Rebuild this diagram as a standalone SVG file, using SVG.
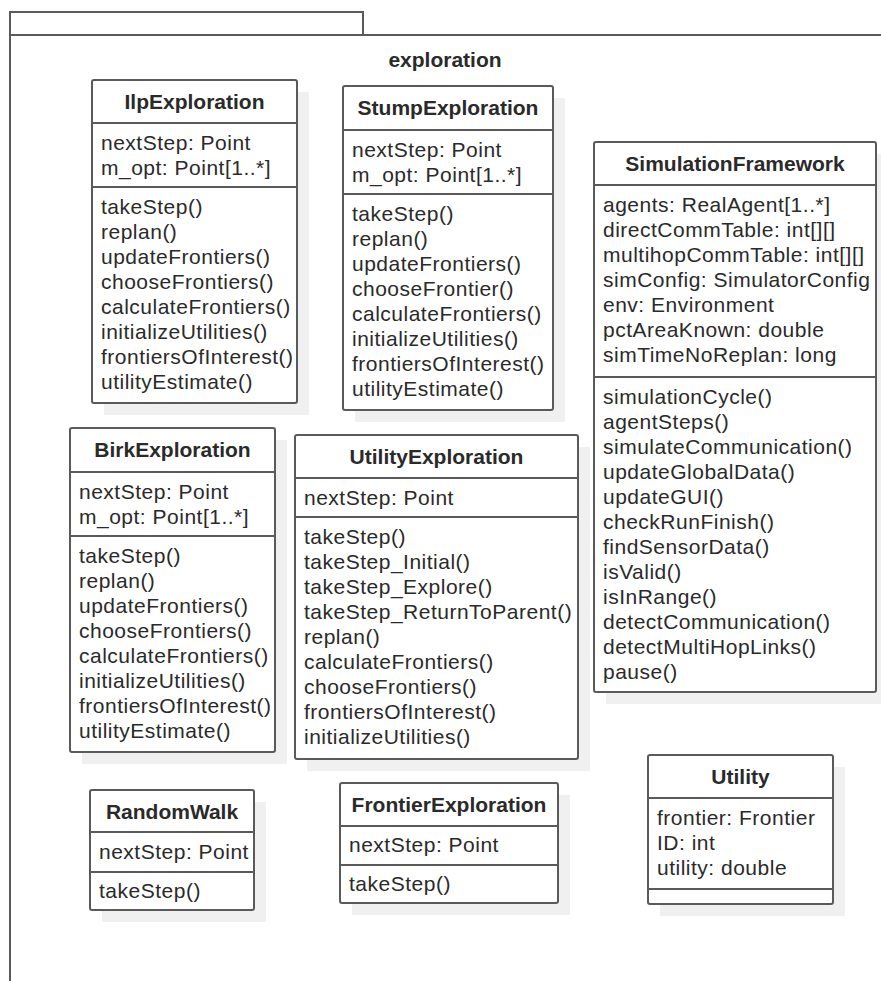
<svg xmlns="http://www.w3.org/2000/svg" width="881" height="981" viewBox="0 0 881 981">
<style>
.bg{fill:#ffffff}
.frame{fill:none;stroke:#5a5a5a;stroke-width:2}
.box{fill:#ffffff;stroke:#5a5a5a;stroke-width:2}
.sh{fill:#f0f0f0}
.sep{stroke:#5a5a5a;stroke-width:2}
.t{font-family:"Liberation Sans",Arial,sans-serif;font-size:21px;letter-spacing:0.5px;fill:#2a2a2a}
.b{font-family:"Liberation Sans",Arial,sans-serif;font-size:21px;font-weight:bold;fill:#2a2a2a;text-anchor:middle}
</style>
<rect class="bg" x="0" y="0" width="881" height="981"/>
<g id="package-exploration">
<path class="frame" d="M10,35 V12 H363 V35"/>
<path class="frame" d="M10,981 V35 H881"/>
<text class="b" x="445" y="67">exploration</text>
</g>
<g id="IlpExploration">
<rect class="sh" x="104" y="92" width="205" height="323"/>
<rect class="box" x="92" y="80" width="205" height="323" rx="2"/>
<line class="sep" x1="92" y1="123" x2="297" y2="123"/>
<line class="sep" x1="92" y1="187" x2="297" y2="187"/>
<text class="b" x="194.5" y="109">IlpExploration</text>
<text class="t" x="101" y="150">nextStep: Point</text>
<text class="t" x="101" y="175">m_opt: Point[1..*]</text>
<text class="t" x="101" y="214">takeStep()</text>
<text class="t" x="101" y="239">replan()</text>
<text class="t" x="101" y="264">updateFrontiers()</text>
<text class="t" x="101" y="289">chooseFrontiers()</text>
<text class="t" x="101" y="314">calculateFrontiers()</text>
<text class="t" x="101" y="339">initializeUtilities()</text>
<text class="t" x="101" y="364">frontiersOfInterest()</text>
<text class="t" x="101" y="389">utilityEstimate()</text>
</g>
<g id="StumpExploration">
<rect class="sh" x="355" y="98" width="210" height="324"/>
<rect class="box" x="343" y="86" width="210" height="324" rx="2"/>
<line class="sep" x1="343" y1="130" x2="553" y2="130"/>
<line class="sep" x1="343" y1="194" x2="553" y2="194"/>
<text class="b" x="448" y="115">StumpExploration</text>
<text class="t" x="352" y="157">nextStep: Point</text>
<text class="t" x="352" y="182">m_opt: Point[1..*]</text>
<text class="t" x="352" y="221">takeStep()</text>
<text class="t" x="352" y="246">replan()</text>
<text class="t" x="352" y="271">updateFrontiers()</text>
<text class="t" x="352" y="296">chooseFrontier()</text>
<text class="t" x="352" y="321">calculateFrontiers()</text>
<text class="t" x="352" y="346">initializeUtilities()</text>
<text class="t" x="352" y="371">frontiersOfInterest()</text>
<text class="t" x="352" y="396">utilityEstimate()</text>
</g>
<g id="SimulationFramework">
<rect class="sh" x="606" y="154" width="282" height="550"/>
<rect class="box" x="594" y="142" width="282" height="550" rx="2"/>
<line class="sep" x1="594" y1="185" x2="876" y2="185"/>
<line class="sep" x1="594" y1="377" x2="876" y2="377"/>
<text class="b" x="735" y="171">SimulationFramework</text>
<text class="t" x="603" y="212">agents: RealAgent[1..*]</text>
<text class="t" x="603" y="237">directCommTable: int[][]</text>
<text class="t" x="603" y="262">multihopCommTable: int[][]</text>
<text class="t" x="603" y="287">simConfig: SimulatorConfig</text>
<text class="t" x="603" y="312">env: Environment</text>
<text class="t" x="603" y="337">pctAreaKnown: double</text>
<text class="t" x="603" y="362">simTimeNoReplan: long</text>
<text class="t" x="603" y="404">simulationCycle()</text>
<text class="t" x="603" y="429">agentSteps()</text>
<text class="t" x="603" y="454">simulateCommunication()</text>
<text class="t" x="603" y="479">updateGlobalData()</text>
<text class="t" x="603" y="504">updateGUI()</text>
<text class="t" x="603" y="529">checkRunFinish()</text>
<text class="t" x="603" y="554">findSensorData()</text>
<text class="t" x="603" y="579">isValid()</text>
<text class="t" x="603" y="604">isInRange()</text>
<text class="t" x="603" y="629">detectCommunication()</text>
<text class="t" x="603" y="654">detectMultiHopLinks()</text>
<text class="t" x="603" y="679">pause()</text>
</g>
<g id="BirkExploration">
<rect class="sh" x="82" y="440" width="205" height="324"/>
<rect class="box" x="70" y="428" width="205" height="324" rx="2"/>
<line class="sep" x1="70" y1="472" x2="275" y2="472"/>
<line class="sep" x1="70" y1="536" x2="275" y2="536"/>
<text class="b" x="172.5" y="457">BirkExploration</text>
<text class="t" x="79" y="499">nextStep: Point</text>
<text class="t" x="79" y="524">m_opt: Point[1..*]</text>
<text class="t" x="79" y="563">takeStep()</text>
<text class="t" x="79" y="588">replan()</text>
<text class="t" x="79" y="613">updateFrontiers()</text>
<text class="t" x="79" y="638">chooseFrontiers()</text>
<text class="t" x="79" y="663">calculateFrontiers()</text>
<text class="t" x="79" y="688">initializeUtilities()</text>
<text class="t" x="79" y="713">frontiersOfInterest()</text>
<text class="t" x="79" y="738">utilityEstimate()</text>
</g>
<g id="UtilityExploration">
<rect class="sh" x="307" y="447" width="283" height="324"/>
<rect class="box" x="295" y="435" width="283" height="324" rx="2"/>
<line class="sep" x1="295" y1="478" x2="578" y2="478"/>
<line class="sep" x1="295" y1="517" x2="578" y2="517"/>
<text class="b" x="436.5" y="464">UtilityExploration</text>
<text class="t" x="304" y="505">nextStep: Point</text>
<text class="t" x="304" y="544">takeStep()</text>
<text class="t" x="304" y="569">takeStep_Initial()</text>
<text class="t" x="304" y="594">takeStep_Explore()</text>
<text class="t" x="304" y="619">takeStep_ReturnToParent()</text>
<text class="t" x="304" y="644">replan()</text>
<text class="t" x="304" y="669">calculateFrontiers()</text>
<text class="t" x="304" y="694">chooseFrontiers()</text>
<text class="t" x="304" y="719">frontiersOfInterest()</text>
<text class="t" x="304" y="744">initializeUtilities()</text>
</g>
<g id="RandomWalk">
<rect class="sh" x="102" y="802" width="164" height="120"/>
<rect class="box" x="90" y="790" width="164" height="120" rx="2"/>
<line class="sep" x1="90" y1="832" x2="254" y2="832"/>
<line class="sep" x1="90" y1="872" x2="254" y2="872"/>
<text class="b" x="172" y="819">RandomWalk</text>
<text class="t" x="99" y="859">nextStep: Point</text>
<text class="t" x="99" y="898">takeStep()</text>
</g>
<g id="FrontierExploration">
<rect class="sh" x="352" y="795" width="218" height="120"/>
<rect class="box" x="340" y="783" width="218" height="120" rx="2"/>
<line class="sep" x1="340" y1="826" x2="558" y2="826"/>
<line class="sep" x1="340" y1="865" x2="558" y2="865"/>
<text class="b" x="449" y="812">FrontierExploration</text>
<text class="t" x="349" y="852">nextStep: Point</text>
<text class="t" x="349" y="891">takeStep()</text>
</g>
<g id="Utility">
<rect class="sh" x="660" y="767" width="185" height="149"/>
<rect class="box" x="648" y="755" width="185" height="149" rx="2"/>
<line class="sep" x1="648" y1="798" x2="833" y2="798"/>
<line class="sep" x1="648" y1="889" x2="833" y2="889"/>
<text class="b" x="740.5" y="784">Utility</text>
<text class="t" x="657" y="825">frontier: Frontier</text>
<text class="t" x="657" y="850">ID: int</text>
<text class="t" x="657" y="875">utility: double</text>
</g>
<g id="connectors"></g>
</svg>
